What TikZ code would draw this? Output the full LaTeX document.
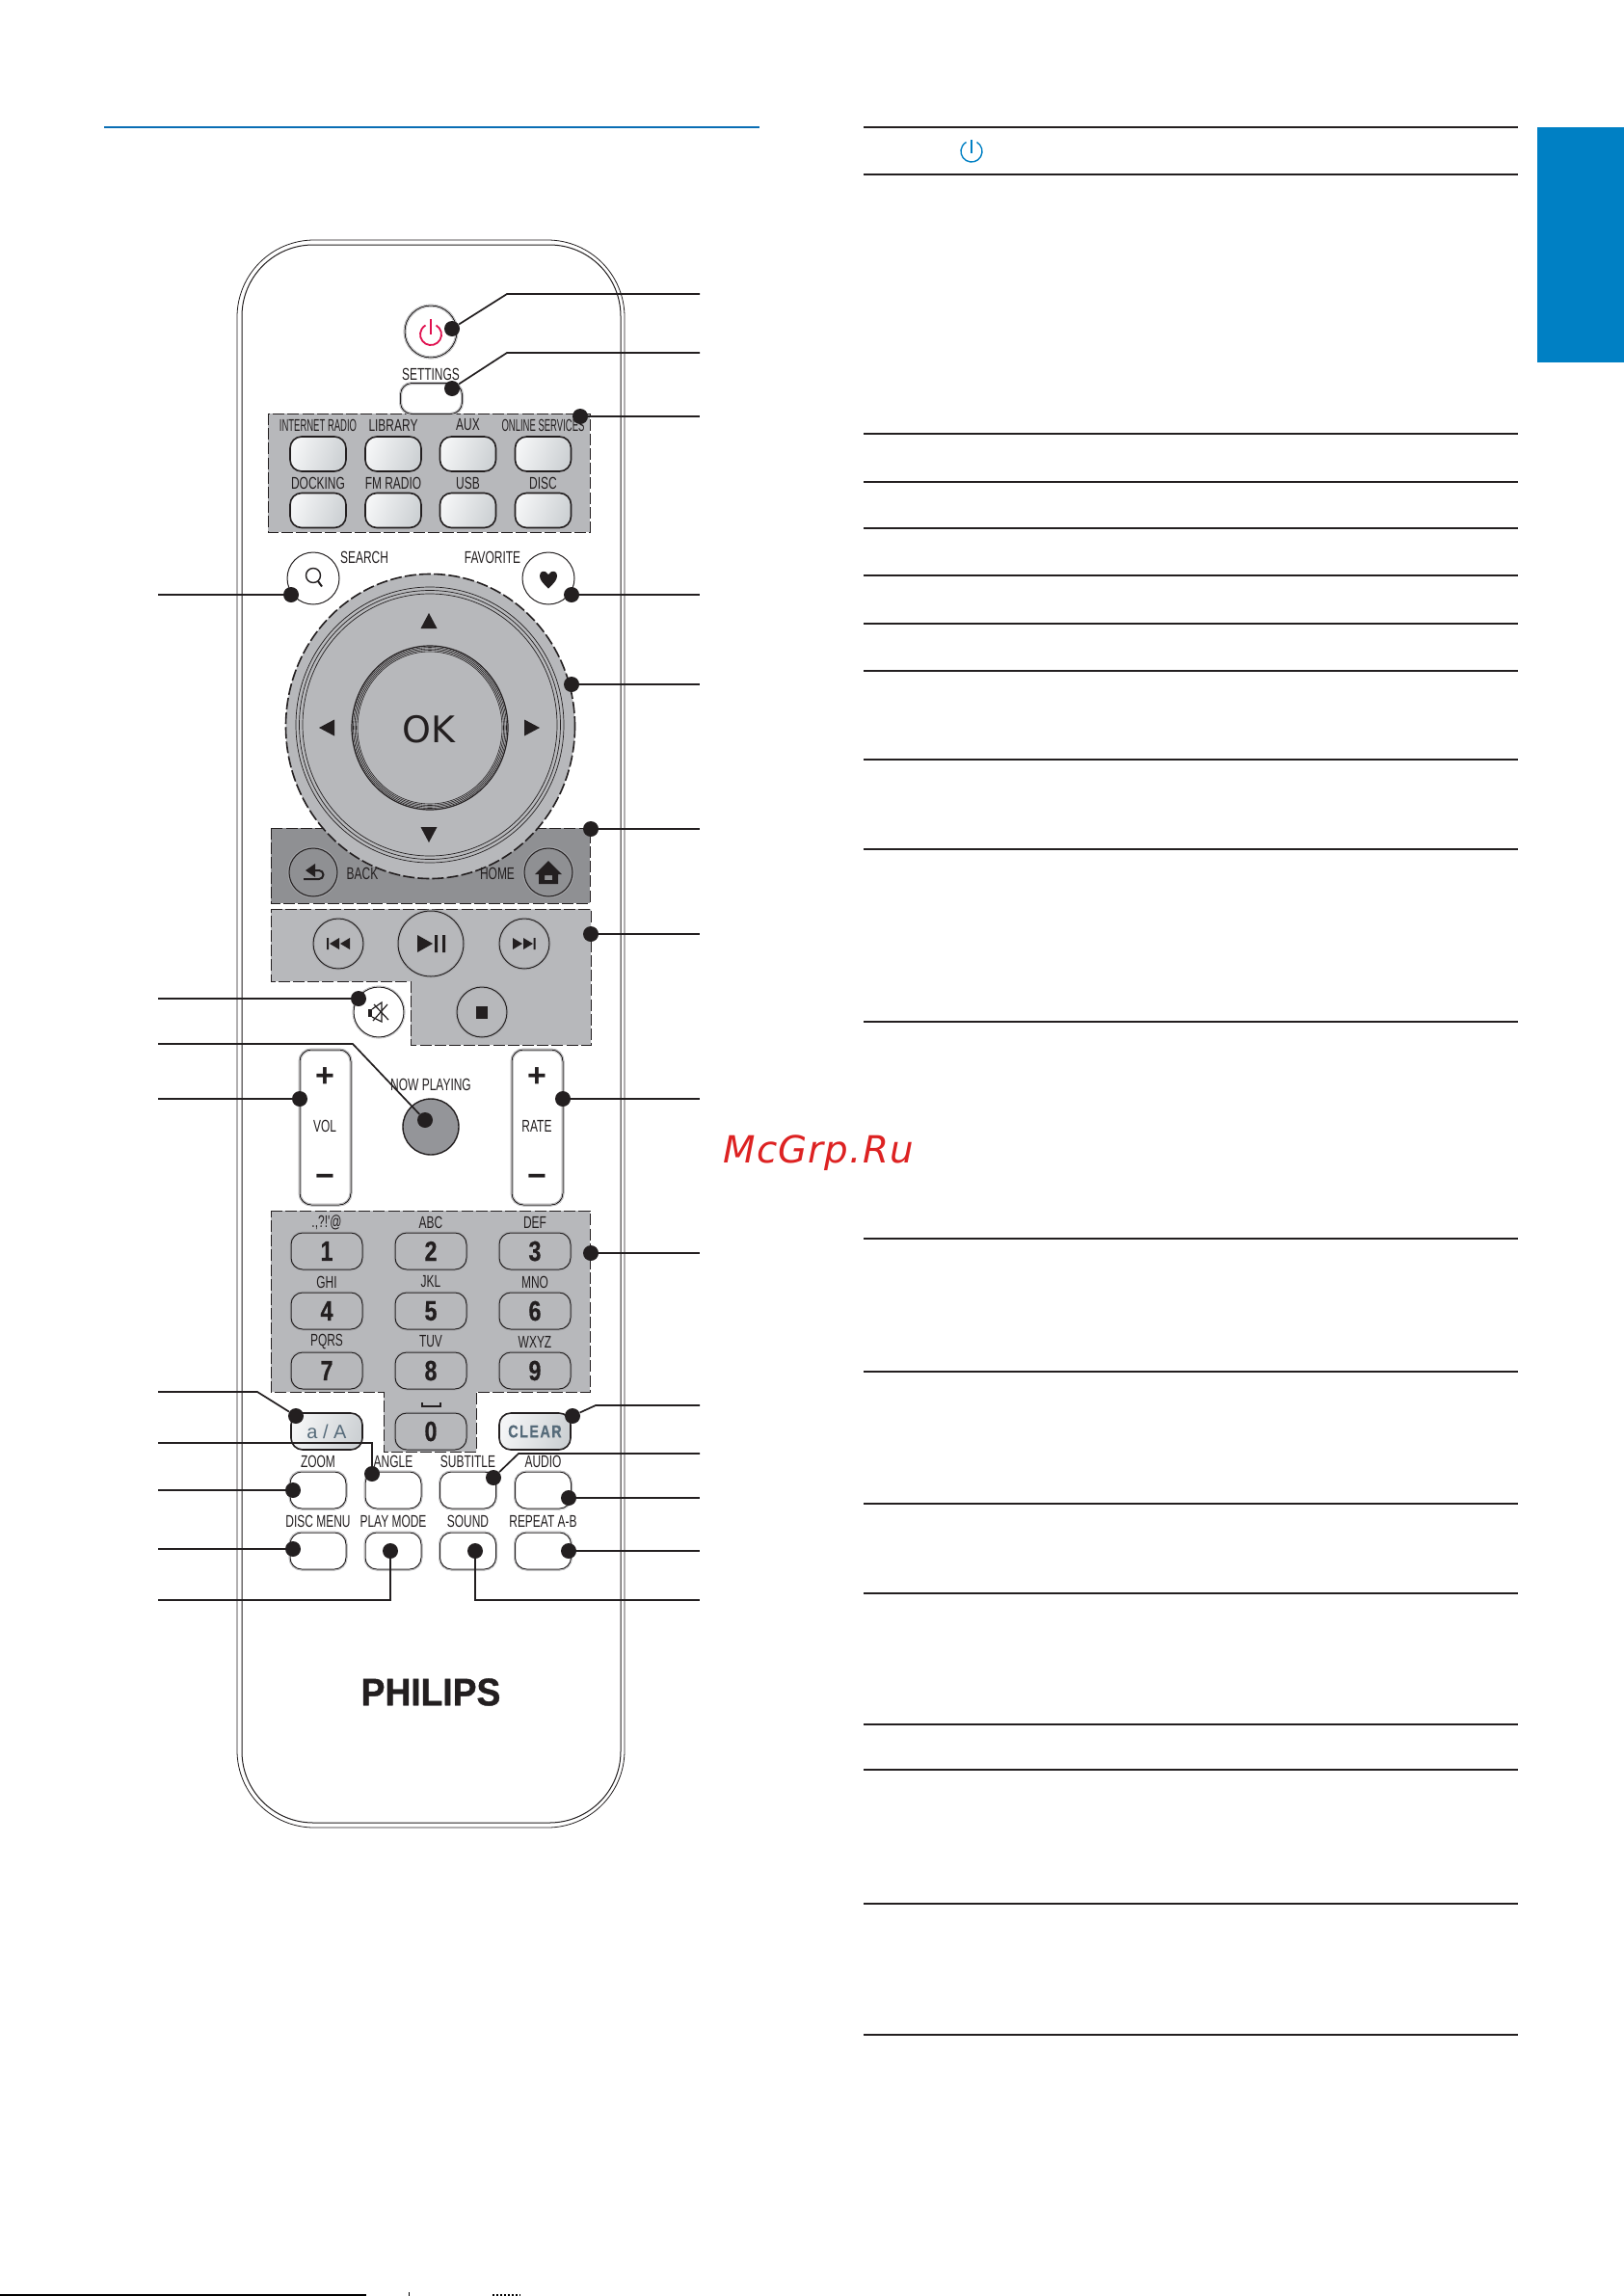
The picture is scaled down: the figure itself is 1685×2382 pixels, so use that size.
\documentclass[tikz,border=0pt]{standalone}
\usepackage{fontspec}
\setmainfont{Liberation Sans}
\newfontfamily\lblfont[FakeStretch=.68]{Liberation Sans}
\newfontfamily\slimfont[FakeStretch=.54]{Liberation Sans}
\newfontfamily\keyfont[FakeStretch=.8,FakeBold=.6]{Liberation Sans}
\newfontfamily\brandfont[FakeStretch=.93,FakeBold=1]{Liberation Sans}
\newfontfamily\wheelfont{DejaVu Sans}
\newfontfamily\markfont[LetterSpace=3]{DejaVu Sans}
\definecolor{ink}{HTML}{231F20}
\definecolor{panel}{HTML}{B7B8BB}
\definecolor{panelDark}{HTML}{8F9093}
\definecolor{playGrey}{HTML}{949599}
\definecolor{halo}{HTML}{A8A9AC}
\definecolor{keyLight}{HTML}{F4F5F6}
\definecolor{keyDark}{HTML}{CDD1D4}
\definecolor{tabBlue}{HTML}{0080C4}
\definecolor{ruleBlue}{HTML}{0A6EB4}
\definecolor{powerRed}{HTML}{E0104F}
\definecolor{slate}{HTML}{566B7A}
\tikzset{
 ringed/.style={preaction={draw=halo,line width=1.5pt},preaction={draw=#1,line width=.9pt}},
 lbl/.style={font=\lblfont\fontsize{8.8}{10}\selectfont,inner sep=0pt,text=ink},
 softkey/.style={draw=ink,line width=.5pt,rounded corners=6pt,minimum width=29pt,minimum height=18pt,inner sep=0pt},
 glosskey/.style={softkey,line width=.8pt,left color=keyLight,right color=keyDark,shading angle=70},
 plainkey/.style={softkey,fill=white,ringed=white},
 numkey/.style={softkey,minimum width=37pt,minimum height=19pt,fill=panel,ringed=panel,font=\keyfont\bfseries\fontsize{14.5}{16}\selectfont,text=ink},
 roundbtn/.style={circle,draw=ink,line width=.5pt,inner sep=0pt},
 groupedge/.style={draw=ink,line width=.5pt,dash pattern=on 6pt off 1.6pt},
 dotmark/.style={circle,fill=ink,inner sep=0pt,minimum size=8pt},
 leader/.style={draw=ink,line width=.85pt},
 tablerule/.style={draw=ink,line width=1.1pt}
}
\begin{document}
\begin{tikzpicture}[x=.5pt,y=-.5pt]
\useasboundingbox (0,0) rectangle (1685,2382);
\fill[white] (0,0) rectangle (1685,2382);
\draw[ruleBlue,line width=.6pt] (108,132)--(788,132);
\fill[tabBlue] (1595,132) rectangle (1685,376);
\foreach \y in {132,181,450,500,548,597,647,696,788,881,1060,1285,1423,1560,1653,1789,1836,1975,2111}
 \draw[tablerule] (896,\y)--(1575,\y);
\draw[tabBlue,line width=.7pt] (1013.5,147.5) arc[start angle=-60,end angle=240,radius=11];
\draw[tabBlue,line width=.7pt] (1008,145)--(1008,159);
\draw[line width=1pt] (0,2381)--(380,2381);
\draw[line width=.5pt] (424,2378)--(424,2382);
\draw[line width=1pt,dash pattern=on 1pt off 1pt] (511,2381)--(540,2381);
\draw[ink,line width=.4pt,rounded corners=40pt] (246,249) rectangle (648,1896);
\draw[ink,line width=.5pt,rounded corners=37pt] (251,254) rectangle (644,1891);
\node[roundbtn,minimum size=27pt,ringed=white] (power) at (447,344) {};
\draw[powerRed,line width=.9pt] (452.5,337.5) arc[start angle=-60,end angle=240,radius=11];
\draw[powerRed,line width=.8pt] (447,331)--(447,347);
\node[lbl] (lblSettings) at (447,388) {SETTINGS};
\draw[groupedge,fill=panel] (278,429) rectangle (612,552);
\node[softkey,minimum width=32pt,minimum height=16pt,ringed=white] (settings) at (447.5,413.5) {};
\foreach \n/\x/\t/\b in {a/330/{\slimfont INTERNET RADIO}/DOCKING,b/408/LIBRARY/FM RADIO,c/485.5/AUX/USB,d/563.5/{\slimfont ONLINE SERVICES}/DISC}{
 \node[glosskey] (top\n) at (\x,471) {};
 \node[glosskey] (sub\n) at (\x,529.5) {};
 \node[lbl] (lblTop\n) at (\x,441) {\t};
 \node[lbl] (lblSub\n) at (\x,501) {\b};
}
\node[roundbtn,minimum size=27pt] (search) at (325,600) {};
\node[roundbtn,minimum size=27pt] (favorite) at (569,600) {};
\node[lbl] (lblSearch) at (378,578) {SEARCH};
\node[lbl] (lblFavorite) at (511,578) {FAVORITE};
\draw[ink,line width=.7pt] (325,597) circle (7.5);
\draw[ink,line width=1pt] (330,603)--(334,608.5);
\fill[ink] (569,610.5) .. controls (562,604) and (560,601) .. (560,597) .. controls (560,592) and (566,591) .. (569,596) .. controls (572,591) and (578,592) .. (578,597) .. controls (578,601) and (576,604) .. (569,610.5);
\draw[groupedge,fill=panelDark] (281,859) rectangle (612,937);
\draw[groupedge,line width=.8pt,fill=panel] (446.5,753.5) ellipse [x radius=150,y radius=158];
\foreach \rx/\ry in {139/143,135.5/139.5,132/136}
 \draw[ink,line width=.35pt] (446,752) ellipse [x radius=\rx,y radius=\ry];
\foreach \rx/\ry in {79.5/83.5,78/82,76.5/80.5,75/79}
 \draw[ink,line width=.3pt] (446,755) ellipse [x radius=\rx,y radius=\ry];
\draw[ink,line width=.6pt] (446,755) ellipse [x radius=81,y radius=85];
\node[inner sep=0pt,text=ink,font=\wheelfont\fontsize{19}{22}\selectfont] (ok) at (445,757) {OK};
\fill[ink] (445,636)--(453.5,652)--(436.5,652)--cycle;
\fill[ink] (445,874)--(453.5,858)--(436.5,858)--cycle;
\fill[ink] (331,755)--(347,746.5)--(347,763.5)--cycle;
\fill[ink] (560,755)--(544,746.5)--(544,763.5)--cycle;
\node[roundbtn,minimum size=25pt,fill=panelDark,ringed=panelDark] (back) at (325,905) {};
\node[roundbtn,minimum size=25pt,fill=panelDark,ringed=panelDark] (home) at (569,905) {};
\node[lbl] (lblBack) at (376,906) {BACK};
\node[lbl] (lblHome) at (516,906) {HOME};
\draw[ink,line width=1pt] (315,912)--(331,912) arc[start angle=90,end angle=-90,radius=4.5]--(325,903);
\fill[ink] (327,896)--(317,903)--(327,910)--cycle;
\fill[ink,even odd rule] (555,907)--(569,893)--(583,907)--(579,907)--(579,917)--(559,917)--(559,907)--cycle (565,908) rectangle (573,913);
\draw[groupedge,fill=panel] (281,943)--(613,943)--(613,1084)--(426,1084)--(426,1018)--(281,1018)--cycle;
\node[roundbtn,minimum size=26pt,ringed=panel] (prev) at (351,979) {};
\node[roundbtn,minimum size=34pt,ringed=panel] (play) at (447,979) {};
\node[roundbtn,minimum size=26pt,ringed=panel] (next) at (544,979) {};
\node[roundbtn,minimum size=26pt,ringed=panel] (stop) at (500,1050) {};
\node[roundbtn,minimum size=26pt,fill=white,ringed=white] (mute) at (393,1050) {};
\fill[ink] (339,973) rectangle (341,985) (342,979)--(352,973)--(352,985)--cycle (353,979)--(363,973)--(363,985)--cycle;
\fill[ink] (433,970)--(449,979)--(433,988)--cycle (451,970) rectangle (454,988) (459,970) rectangle (462,988);
\fill[ink] (532,973)--(542,979)--(532,985)--cycle (543,973)--(553,979)--(543,985)--cycle (553.5,973) rectangle (555.5,985);
\fill[ink] (494,1044) rectangle (506,1057);
\fill[ink] (382,1047) rectangle (386,1055);
\draw[ink,line width=.6pt] (386,1047)--(396,1040)--(396,1060)--(386,1055) (388,1042)--(403,1058) (387,1059)--(402,1042);
\node[softkey,minimum width=26.5pt,minimum height=80.5pt,ringed=white] (vol) at (337.5,1169.5) {};
\node[softkey,minimum width=26.5pt,minimum height=80.5pt,ringed=white] (rate) at (557.5,1169.5) {};
\node[circle,draw=ink,fill=playGrey,line width=.7pt,inner sep=0pt,minimum size=29pt] (nowplaying) at (447,1169) {};
\node[lbl] (lblNow) at (447,1125) {NOW PLAYING};
\node[lbl] (lblVol) at (337,1168) {VOL};
\node[lbl] (lblRate) at (557,1168) {RATE};
\foreach \x/\n in {337/a,557/b}{
 \node[inner sep=0pt,text=ink,font=\bfseries\fontsize{17}{18}\selectfont] (plus\n) at (\x,1118) {+};
 \node[inner sep=0pt,text=ink,font=\bfseries\fontsize{17}{18}\selectfont] (minus\n) at (\x,1225) {−};
}
\draw[groupedge,fill=panel] (281,1256)--(612,1256)--(612,1444)--(494,1444)--(494,1506)--(398,1506)--(398,1444)--(281,1444)--cycle;
\foreach \d/\x/\y/\t in {1/339/1298/{.,?!'@},2/447/1298/ABC,3/555/1298/DEF,4/339/1360/GHI,5/447/1360/JKL,6/555/1360/MNO,7/339/1422/PQRS,8/447/1422/TUV,9/555/1422/WXYZ}{
 \node[numkey] (num\d) at (\x,\y) {\d};
 \node[lbl] (lblNum\d) at (\x,\y-30) {\t};
}
\node[numkey] (num0) at (447,1485) {0};
\draw[ink,line width=.7pt] (438,1455)--(438,1459)--(457,1459)--(457,1455);
\node[glosskey,minimum width=37pt,minimum height=19pt,text=slate,font=\fontsize{10}{12}\selectfont] (case) at (339,1485) {a / A};
\node[glosskey,minimum width=37pt,minimum height=19pt,text=slate,font=\keyfont\bfseries\addfontfeature{LetterSpace=8}\fontsize{9}{11}\selectfont] (clear) at (555,1485) {CLEAR};
\foreach \n/\x/\t/\b in {a/330/ZOOM/DISC MENU,b/408/ANGLE/PLAY MODE,c/485.5/SUBTITLE/SOUND,d/563.5/AUDIO/REPEAT A-B}{
 \node[plainkey,minimum height=19pt] (row\n) at (\x,1546) {};
 \node[plainkey,minimum height=19pt] (low\n) at (\x,1609) {};
 \node[lbl] (lblRow\n) at (\x,1516) {\t};
 \node[lbl] (lblLow\n) at (\x,1578) {\b};
}
\node[inner sep=0pt,text=ink,font=\brandfont\bfseries\fontsize{20}{22}\selectfont] (brand) at (447,1755.5) {PHILIPS};
\foreach \n/\x/\y/\ex in {search/302/617/164,favorite/593/617/726,group/602/432/726,wheel/593/710/726,nav/613/860/726,transport/613/969/726,mute/372/1036/164,vol/311/1140/164,rate/584/1140/726,keypad/613/1300/726,zoom/304/1546/164,audio/590/1554/726,disc/304/1607/164,repeat/590/1609/726}{
 \node[dotmark] (dot\n) at (\x,\y) {};
 \coordinate (end\n) at (\ex,\y);
 \draw[leader] (dot\n)--(end\n);
}
\foreach \n/\x/\y/\mx/\my/\ex in {power/469/341/526/305/726,settings/469/403/526/366/726,playing/441/1162/366/1083/164,case/307/1469/267/1444/164,clear/594/1469/618/1458/726,angle/386/1529/386/1497/164,subtitle/512/1533/538/1508/726,mode/405/1609/405/1660/164,sound/493/1609/493/1660/726}{
 \node[dotmark] (dot\n) at (\x,\y) {};
 \coordinate (end\n) at (\ex,\my);
 \draw[leader] (dot\n)--(\mx,\my)--(end\n);
}
\node[inner sep=0pt,text={rgb,255:red,221;green,34;blue,34},font=\markfont\itshape\fontsize{19.4}{22}\selectfont,anchor=base west] (watermark) at (750,1206) {McGrp.Ru};
\end{tikzpicture}
\end{document}
